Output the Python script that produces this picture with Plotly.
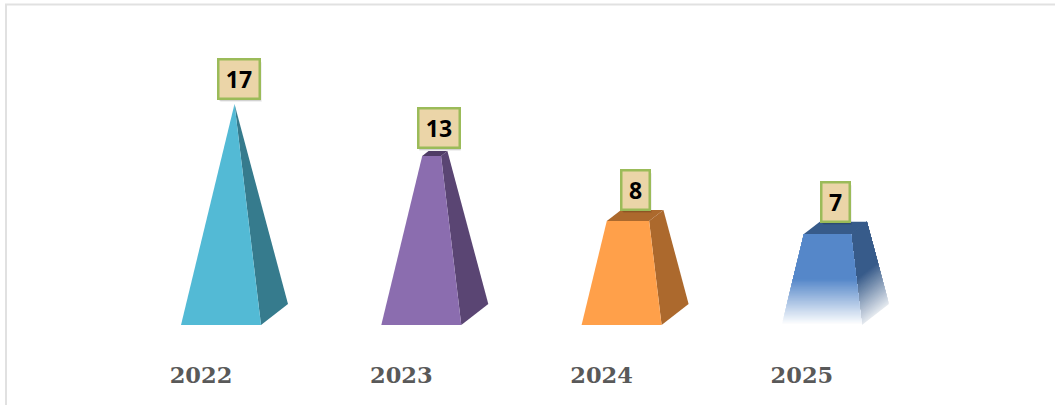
import plotly.graph_objects as go

categories = ["2022", "2023", "2024", "2025"]
values = [17, 13, 8, 7]
front_colors = ["#53BAD5", "#8B6DAF", "#FFA04A", "#5587C9"]
side_colors = ["#367B8D", "#5A4573", "#AC692D", "#375B8A"]
top_colors = ["#367B8D", "#4F3C66", "#AC692D", "#375B8A"]
fading = [False, False, False, True]
label_shift_px = [18, 17.5, 14, 14]
label_w = [39, 39, 26, 26]

W, H = 1057, 405
PLOT_H = 355
STEP = 200.3       # px per category
UNIT = 12.382      # px per value unit
X0, Y0 = 221.0, 314.5
HW = 40 / STEP
DX = 27 / STEP
DY = 21 / UNIT
VMAX = max(values)
WHITE = (255, 255, 255)


def rgb(h):
    return tuple(int(h[i:i + 2], 16) for i in (1, 3, 5))


def mix(c, t):
    a = rgb(c)
    return "rgb(%d,%d,%d)" % tuple(WHITE[k] + (a[k] - WHITE[k]) * t for k in range(3))


def corner(i, v, u, w):
    s = 1 - v / VMAX
    return i + DX / 2 + s * u * HW + s * w * DX / 2, v + s * w * DY / 2


def poly(fig, pts, color):
    xs = [p[0] for p in pts] + [pts[0][0]]
    ys = [p[1] for p in pts] + [pts[0][1]]
    fig.add_trace(go.Scatter(x=xs, y=ys, mode="lines", fill="toself", fillcolor=color,
                             line=dict(width=0, color=color), hoverinfo="skip", showlegend=False))


def face(fig, i, v, a, b, color, fade, floor=0.0):
    """Quad between base edge a-b and the top of the frustum; a, b = (u, w)."""
    def at(p, t):
        x0, y0 = corner(i, 0, *p)
        x1, y1 = corner(i, v, *p)
        return x0 + (x1 - x0) * t, y0 + (y1 - y0) * t
    if not fade:
        poly(fig, [at(a, 0), at(b, 0), at(b, 1), at(a, 1)], color)
        return
    n = 36
    for k in range(n + 1):
        t = k / n * 0.5
        poly(fig, [at(a, t), at(b, t), at(b, 1), at(a, 1)], mix(color, floor + (1 - floor) * k / n))


fig = go.Figure()
for i, v in enumerate(values):
    face(fig, i, v, (1, -1), (1, 1), side_colors[i], fading[i], floor=0.14)
    face(fig, i, v, (-1, -1), (1, -1), front_colors[i], fading[i])
    if v < VMAX:
        poly(fig, [corner(i, v, -1, -1), corner(i, v, 1, -1), corner(i, v, 1, 1), corner(i, v, -1, 1)],
             top_colors[i])

annotations = []
for i, v in enumerate(values):
    common = dict(x=i, y=v, xref="x", yref="y", showarrow=False, yanchor="bottom", xanchor="center",
                  width=label_w[i], height=37, borderpad=0, borderwidth=2.5)
    for off, alpha in ((3, 0.08), (2, 0.14)):
        annotations.append(dict(common, text=" ", bgcolor="rgba(0,0,0,%g)" % alpha,
                                bordercolor="rgba(0,0,0,0)",
                                xshift=label_shift_px[i] + off / 2, yshift=4.5 - off))
    annotations.append(dict(common, text=str(v), bgcolor="#EBD5A8", bordercolor="#9BBB59",
                            xshift=label_shift_px[i], yshift=4.5, align="center", valign="middle",
                            font=dict(family="Open Sans", size=23, color="#000000", weight=700)))

line = dict(color="#E1E1E1", width=2)
fig.update_layout(
    width=W, height=H, autosize=False,
    margin=dict(l=0, r=0, t=0, b=H - PLOT_H, pad=0),
    paper_bgcolor="white", plot_bgcolor="white", showlegend=False,
    xaxis=dict(range=[-X0 / STEP, (W - X0) / STEP], showgrid=False, zeroline=False, showline=False,
               tickmode="array", tickvals=[i - 20 / STEP for i in range(len(categories))],
               ticktext=categories, ticks="", ticklabelstandoff=4,
               tickfont=dict(family="DejaVu Serif", size=22.5, color="#595959", weight=700),
               fixedrange=True),
    yaxis=dict(range=[(Y0 - PLOT_H) / UNIT, Y0 / UNIT], visible=False, fixedrange=True),
    annotations=annotations,
    shapes=[
        dict(type="line", xref="paper", yref="paper", x0=5 / W, x1=1055 / W,
             y0=1 - 4.5 / PLOT_H, y1=1 - 4.5 / PLOT_H, line=line),
        dict(type="line", xref="paper", yref="paper", x0=6 / W, x1=6 / W,
             y0=1 - 4 / PLOT_H, y1=1 - H / PLOT_H, line=line),
    ],
)
fig.write_html("out.html", config=dict(displayModeBar=False),
               post_script="document.body.style.margin='0';document.body.style.overflow='hidden';")
